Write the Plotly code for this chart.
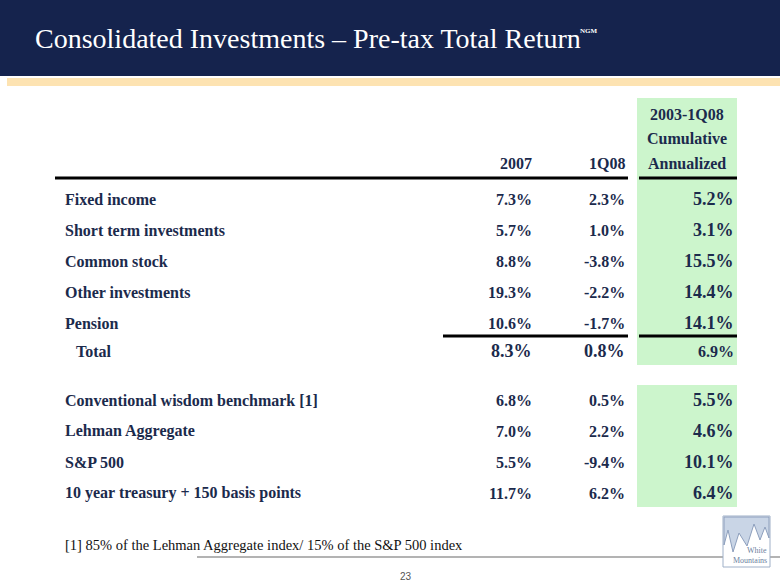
import plotly.graph_objects as go

# ---- data ----
title_text = "Consolidated Investments – Pre-tax Total Return"
title_sup = "NGM"
col_headers = ["2007", "1Q08", "2003-1Q08<br>Cumulative<br>Annualized"]

block1_labels = ["Fixed income", "Short term investments", "Common stock",
                 "Other investments", "Pension"]
block1_2007 = [7.3, 5.7, 8.8, 19.3, 10.6]
block1_1q08 = [2.3, 1.0, -3.8, -2.2, -1.7]
block1_cum = [5.2, 3.1, 15.5, 14.4, 14.1]

total_label = "Total"
total_2007 = 8.3
total_1q08 = 0.8
total_cum = 6.9

block2_labels = ["Conventional wisdom benchmark [1]", "Lehman Aggregate",
                 "S&P 500", "10 year treasury + 150 basis points"]
block2_2007 = [6.8, 7.0, 5.5, 11.7]
block2_1q08 = [0.5, 2.2, -9.4, 6.2]
block2_cum = [5.5, 4.6, 10.1, 6.4]

footnote = "[1] 85% of the Lehman Aggregate index/ 15% of the S&P 500 index"
page_no = "23"

# ---- layout constants ----
W, H = 780, 587
NAVY = "#15234d"
TXT = "#1b2a4c"
GREEN = "#ccf5cc"
PEACH = "#fde3b2"
SERIF = "Liberation Serif"

X_LABEL = 63
X_2007 = 534
X_1Q08 = 627
X_CUM = 736
GREEN_X0, GREEN_X1 = 637, 737

B1_Y0, STEP = 199, 31
TOTAL_Y = 351
B2_Y0 = 400

fig = go.Figure()
shapes = []
ann = []

def fmt(v):
    return f"{v:.1f}%"

# header band
shapes.append(dict(type="rect", x0=0, x1=W, y0=0, y1=76, fillcolor=NAVY, line_width=0, layer="below"))
shapes.append(dict(type="rect", x0=7, x1=W, y0=78, y1=86, fillcolor=PEACH, line_width=0, layer="below"))

# green column backgrounds
shapes.append(dict(type="rect", x0=GREEN_X0, x1=GREEN_X1, y0=98, y1=365, fillcolor=GREEN, line_width=0, layer="below"))
shapes.append(dict(type="rect", x0=GREEN_X0, x1=GREEN_X1, y0=385, y1=507, fillcolor=GREEN, line_width=0, layer="below"))

# rules
shapes.append(dict(type="line", x0=55, x1=628, y0=178, y1=178, line=dict(color="black", width=3)))
shapes.append(dict(type="line", x0=GREEN_X0 + 2, x1=GREEN_X1, y0=178, y1=178, line=dict(color="black", width=3)))
shapes.append(dict(type="line", x0=443, x1=628, y0=336, y1=336, line=dict(color="black", width=3)))
shapes.append(dict(type="line", x0=GREEN_X0 + 2, x1=GREEN_X1, y0=336, y1=336, line=dict(color="black", width=3)))

# footer rule
shapes.append(dict(type="line", x0=197, x1=W, y0=557, y1=557, line=dict(color="#9a9a9a", width=1.5)))

# logo
shapes.append(dict(type="rect", x0=723, x1=770, y0=516, y1=567, fillcolor="#ffffff",
                   line=dict(color="#9fb0c8", width=1)))
shapes.append(dict(type="path",
                   path="M 724 517 L 769 517 L 769 538 L 765 527 L 760 540 L 754 524 L 747 546 L 739 533 L 733 552 L 728 530 L 724 545 Z",
                   fillcolor="#c9d5e6", line=dict(color="#8d9fbd", width=1)))

# title
ann.append(dict(x=33, y=38, text=title_text, showarrow=False,
                xanchor="left", yanchor="middle",
                font=dict(family=SERIF, size=28, color="white")))
ann.append(dict(x=578, y=31, text=title_sup, showarrow=False,
                xanchor="left", yanchor="middle",
                font=dict(family=SERIF, size=7, color="white", weight="bold")))

# column headers
HDR_FONT = dict(family=SERIF, size=16, color=TXT, weight="bold")
ann.append(dict(x=X_2007, y=163, text=col_headers[0], showarrow=False, xanchor="right", yanchor="middle",
                font=HDR_FONT))
ann.append(dict(x=X_1Q08, y=163, text=col_headers[1], showarrow=False, xanchor="right", yanchor="middle",
                font=HDR_FONT))
for i, line in enumerate(col_headers[2].split("<br>")):
    ann.append(dict(x=(GREEN_X0 + GREEN_X1) / 2, y=114 + i * 24.5, text=line, showarrow=False,
                    xanchor="center", yanchor="middle", font=HDR_FONT))

def row(label, v07, vq, vc, y, big_mid=False, big_cum=True, indent=0):
    ann.append(dict(x=X_LABEL + indent, y=y, text=label, showarrow=False, xanchor="left", yanchor="middle",
                    font=dict(family=SERIF, size=16, color=TXT, weight="bold")))
    msz = 18 if big_mid else 16
    ann.append(dict(x=X_2007, y=y, text=fmt(v07), showarrow=False, xanchor="right", yanchor="middle",
                    font=dict(family=SERIF, size=msz, color=TXT, weight="bold")))
    ann.append(dict(x=X_1Q08, y=y, text=fmt(vq), showarrow=False, xanchor="right", yanchor="middle",
                    font=dict(family=SERIF, size=msz, color=TXT, weight="bold")))
    csz = 18 if big_cum else 16
    ann.append(dict(x=X_CUM, y=y, text=fmt(vc), showarrow=False, xanchor="right", yanchor="middle",
                    font=dict(family=SERIF, size=csz, color=TXT, weight="bold")))

for i, lab in enumerate(block1_labels):
    row(lab, block1_2007[i], block1_1q08[i], block1_cum[i], B1_Y0 + i * STEP)
row(total_label, total_2007, total_1q08, total_cum, TOTAL_Y, big_mid=True, big_cum=False, indent=11)
for i, lab in enumerate(block2_labels):
    row(lab, block2_2007[i], block2_1q08[i], block2_cum[i], B2_Y0 + i * STEP)

# footnote
ann.append(dict(x=X_LABEL, y=545, text=footnote, showarrow=False, xanchor="left", yanchor="middle",
                font=dict(family=SERIF, size=14.5, color="#111111")))
ann.append(dict(x=406, y=576, text=page_no, showarrow=False, xanchor="center", yanchor="middle",
                font=dict(family="Liberation Sans", size=10, color="#555555")))
# logo text
ann.append(dict(x=769, y=550, text="White", showarrow=False, xanchor="right", yanchor="middle",
                font=dict(family=SERIF, size=8, color="#6d7fa0")))
ann.append(dict(x=769, y=560, text="Mountains", showarrow=False, xanchor="right", yanchor="middle",
                font=dict(family=SERIF, size=8, color="#6d7fa0")))

fig.update_layout(
    width=W, height=H, margin=dict(l=0, r=0, t=0, b=0),
    paper_bgcolor="white", plot_bgcolor="white",
    xaxis=dict(range=[0, W], visible=False, fixedrange=True),
    yaxis=dict(range=[H, 0], visible=False, fixedrange=True),
    shapes=shapes, annotations=ann, showlegend=False,
)
fig.write_html("out.html", config={"displayModeBar": False},
               post_script="document.body.style.margin='0';document.body.style.overflow='hidden';")
